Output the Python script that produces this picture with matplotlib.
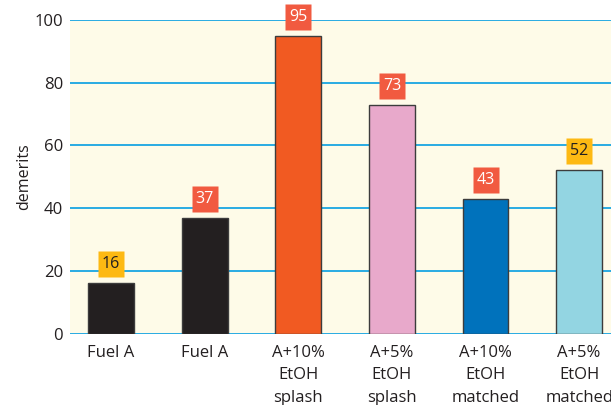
import numpy as np
import matplotlib.pyplot as plt
from matplotlib.transforms import ScaledTranslation

plt.rcParams['font.family'] = ['Open Sans', 'DejaVu Sans']

# data
labels = ["Fuel A", "Fuel A", "A+10%\nEtOH\nsplash", "A+5%\nEtOH\nsplash",
          "A+10%\nEtOH\nmatched", "A+5%\nEtOH\nmatched"]
demerits = [16, 37, 95, 73, 43, 52]
bar_colors = ["#231F20", "#231F20", "#F15A22", "#E8A9CB", "#0072BC", "#93D5E2"]
box_colors = ["#FDB913", "#F15A40", "#F15A40", "#F15A40", "#F15A40", "#FDB913"]
box_text = ["#231F20", "white", "white", "white", "white", "#231F20"]

fig = plt.figure(figsize=(6.11, 4.05), dpi=100)
ax = fig.add_axes([70/611, 1 - 333.5/405, 1 - 70/611, (333.5 - 20)/405])
ax.set_facecolor("#FEFBE8")

x = np.arange(len(demerits))
ax.bar(x, demerits, width=0.49, color=bar_colors, edgecolor="#3C3C3C",
       linewidth=1.0, zorder=3)

# value boxes above bars
off = ScaledTranslation(0, 19/100, fig.dpi_scale_trans)
for xi, v, bc, tc in zip(x, demerits, box_colors, box_text):
    ax.plot(xi, v, marker="s", ms=18.7, color=bc, mec="none",
            transform=ax.transData + off, zorder=4, clip_on=False)
    ax.text(xi, v, str(v), color=tc, fontsize=11.5, ha="center", va="center",
            transform=ax.transData + off, zorder=5)

ax.set_xlim(-0.438, 5.34)
ax.set_ylim(0, 100)
ax.set_yticks([0, 20, 40, 60, 80, 100])
ax.yaxis.grid(True, color="#29ABE2", linewidth=1.4, zorder=1)
ax.set_axisbelow(True)
for s in ax.spines.values():
    s.set_visible(False)

ax.set_xticks(x)
ax.set_xticklabels(labels, fontsize=12, linespacing=1.55, color="#231F20")
ax.tick_params(axis="both", length=0, labelsize=12, labelcolor="#231F20")
ax.tick_params(axis="y", pad=5)
ax.tick_params(axis="x", pad=8)
ax.set_ylabel("demerits", fontsize=11.5, color="#231F20", labelpad=2)

plt.savefig("out.png", dpi=100)
